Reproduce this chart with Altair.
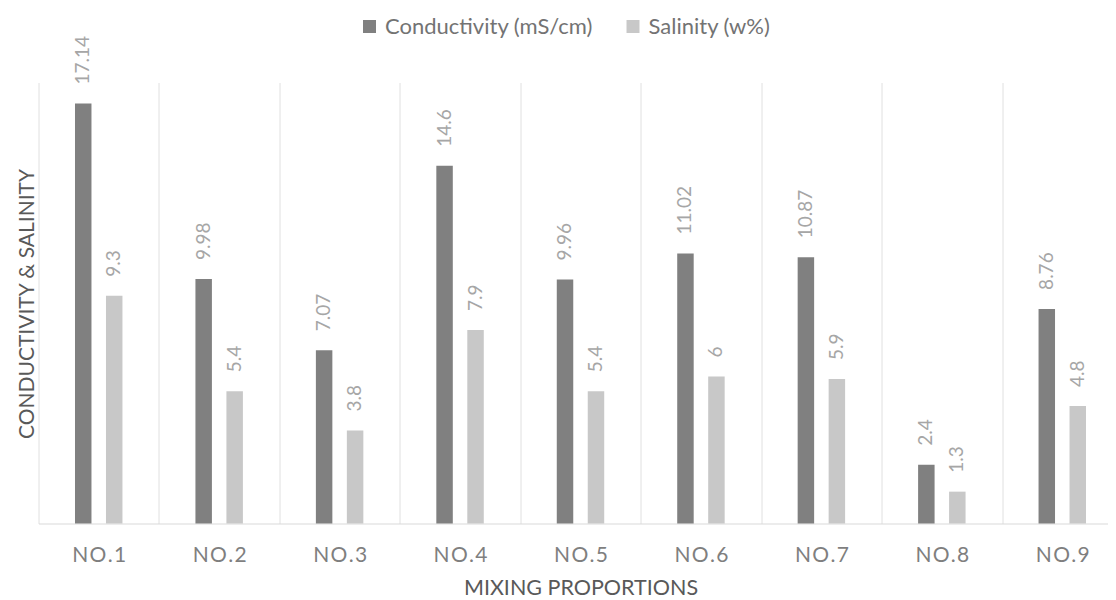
import altair as alt
import pandas as pd

categories = ["NO.1", "NO.2", "NO.3", "NO.4", "NO.5", "NO.6", "NO.7", "NO.8", "NO.9"]
conductivity = [17.14, 9.98, 7.07, 14.6, 9.96, 11.02, 10.87, 2.4, 8.76]
salinity = [9.3, 5.4, 3.8, 7.9, 5.4, 6, 5.9, 1.3, 4.8]
series_names = ["Conductivity (mS/cm)", "Salinity (w%)"]
series_colors = ["#808080", "#c8c8c8"]

rows = []
for i, cat in enumerate(categories):
    for name, vals in zip(series_names, [conductivity, salinity]):
        v = vals[i]
        rows.append({"category": cat, "series": name, "value": v, "label": f"{v:g}"})
df = pd.DataFrame(rows)

FONT = "Lato"

x = alt.X(
    "category:N", sort=categories, title="MIXING PROPORTIONS",
    scale=alt.Scale(range=[0, 1084], paddingInner=0, paddingOuter=0),
    axis=alt.Axis(
        tickBand="extent", grid=True, gridColor="#e0e0e0", gridWidth=1,
        ticks=False, tickSize=0, domainColor="#d9d9d9", domainWidth=1,
        labelAngle=0, labelFont=FONT, labelFontSize=21, labelColor="#7f7f7f",
        labelBaseline="alphabetic", labelPadding=38,
        labelExpr="join(split(datum.label, ''), '\u200a')",
        titleFont=FONT, titleFontSize=21.5, titleFontWeight="normal", titleColor="#595959",
        titleX=542, titleY=71, titleAlign="center", titleBaseline="alphabetic",
    ),
)

y = alt.Y(
    "value:Q",
    scale=alt.Scale(domain=[0, 18], nice=False, zero=True),
    axis=alt.Axis(
        labels=False, ticks=False, domain=False, grid=False,
        title="CONDUCTIVITY & SALINITY", titleFont=FONT, titleFontSize=21,
        titleFontWeight="normal", titleColor="#595959", titleX=-5.5, titleY=221,
        titleAlign="center", titleBaseline="alphabetic", titleAngle=270,
    ),
)

# two empty slots around the pair of bars keep them centred in each band
offset_domain = ["_left"] + series_names + ["_right"]
xo = alt.XOffset("series:N",
                 scale=alt.Scale(domain=offset_domain, paddingInner=0.468, paddingOuter=0.178))

color = alt.Color(
    "series:N", sort=series_names,
    scale=alt.Scale(domain=series_names, range=series_colors),
    legend=alt.Legend(
        title=None, orient="none", legendX=320, legendY=-67, direction="horizontal",
        symbolType="square", symbolSize=169, symbolStrokeWidth=0,
        labelFont=FONT, labelFontSize=22, labelColor="#737373", labelLimit=0,
        labelOffset=4.5, columnPadding=28.5, padding=0,
    ),
)

bars = alt.Chart(df).mark_bar().encode(x=x, y=y, xOffset=xo, color=color)
text = alt.Chart(df).mark_text(
    angle=270, align="left", baseline="middle", dx=19,
    font=FONT, fontSize=19, color="#a6a6a6",
).encode(x=x, y=y, xOffset=xo, text="label:N")

chart = alt.layer(bars, text).properties(
    width=1069.5, height=441,
    autosize=alt.AutoSizeParams(type="none"),
    padding={"left": 30.5, "top": 74.5, "right": 0, "bottom": 76},
).configure_view(stroke=None)

chart.save("out.html", embed_options={"renderer": "svg", "actions": False})
